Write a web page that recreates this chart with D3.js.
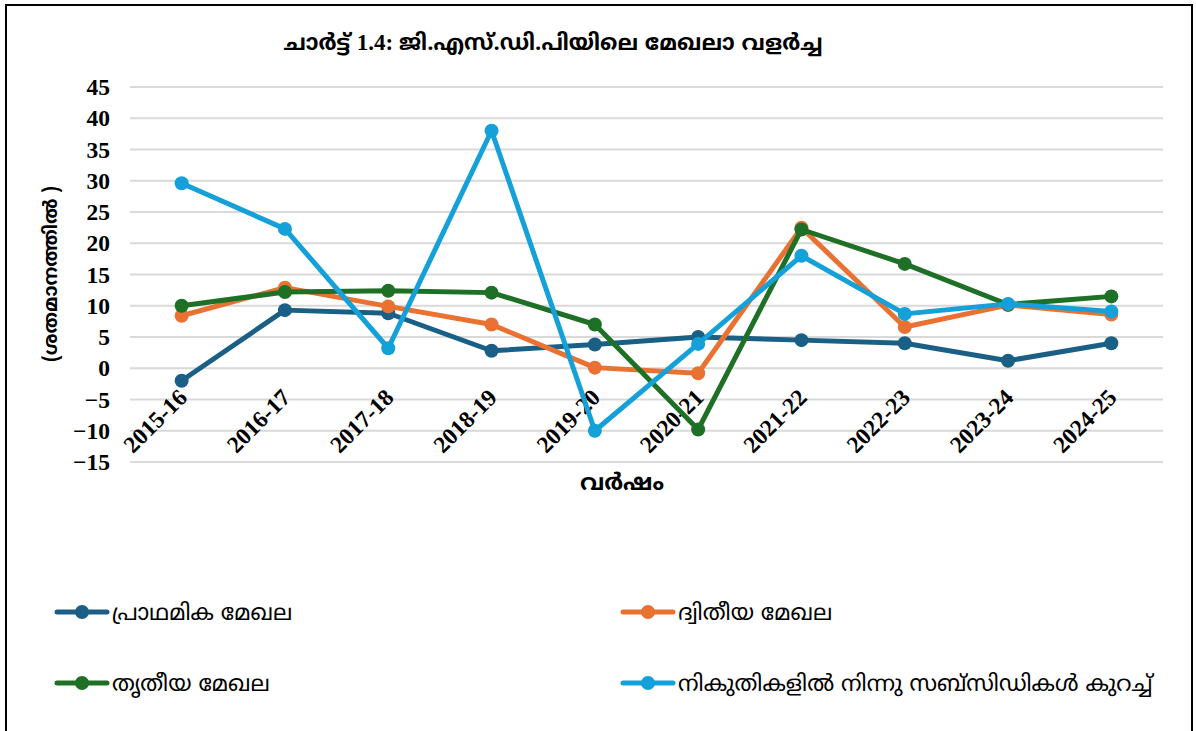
<!DOCTYPE html>
<html>
<head>
<meta charset="utf-8">
<script src="https://cdn.jsdelivr.net/npm/d3@7"></script>
<style>
  body { margin: 0; background: #fff; }
  .ml { font-family: "Noto Sans Malayalam", "Noto Sans", "DejaVu Sans", sans-serif; }
  .num { font-family: "Liberation Serif", "Times New Roman", serif; font-weight: bold; }
</style>
</head>
<body>
<div class="chart"></div>
<script>
const years = ['2015-16','2016-17','2017-18','2018-19','2019-20','2020-21','2021-22','2022-23','2023-24','2024-25'];
const yTicks = [-15,-10,-5,0,5,10,15,20,25,30,35,40,45];

const primary   = [-2.0, 9.3, 8.8, 2.8, 3.8, 5.0, 4.5, 4.0, 1.2, 4.0];
const secondary = [8.4, 12.9, 9.9, 7.0, 0.1, -0.8, 22.5, 6.6, 10.1, 8.6];
const tertiary  = [10.0, 12.2, 12.4, 12.1, 7.0, -9.8, 22.2, 16.7, 10.2, 11.5];
const taxes     = [29.6, 22.3, 3.2, 38.0, -10.0, 3.9, 18.0, 8.7, 10.3, 9.1];

const seriesNames = ['പ്രാഥമിക മേഖല', 'ദ്വിതീയ മേഖല', 'തൃതീയ മേഖല', 'നികുതികളിൽ നിന്നു സബ്സിഡികൾ കുറച്ച്'];
const colors = ['#1a5f85', '#e97132', '#1e7026', '#14a0d8'];

const W = 1196, H = 731;
const margin = {top:87, left:130, bottom:269, right:33};

let svg = d3.select('.chart').append('svg')
    .attr('width', W)
    .attr('height', H);

// outer frame
svg.append('rect')
    .attr('x', 6).attr('y', 5)
    .attr('width', 1186).attr('height', 760)
    .attr('fill', 'none')
    .attr('stroke', 'black')
    .attr('stroke-width', 2);

const x = d3.scaleBand()
    .domain(years)
    .range([margin.left, W - margin.right]);

const y = d3.scaleLinear()
    .domain([-15, 45])
    .range([H - margin.bottom, margin.top]);

// grid
svg.append('g')
    .selectAll('line')
    .data(yTicks)
    .enter()
    .append('line')
    .attr('x1', margin.left)
    .attr('x2', W - margin.right)
    .attr('y1', d => y(d))
    .attr('y2', d => y(d))
    .attr('stroke', '#d9d9d9')
    .attr('stroke-width', 2);

const yAxis = d3.axisLeft(y)
    .tickValues(yTicks)
    .tickSize(0)
    .tickPadding(20);

let Y = svg.append('g')
    .attr('transform', `translate(${margin.left}, 0)`)
    .call(yAxis);
Y.select('.domain').remove();
Y.selectAll('text')
    .attr('font-size', 23.5)
    .attr('font-family', '"Liberation Serif", serif')
    .attr('font-weight', 'bold')
    .attr('fill', '#000');

// x labels, rotated
svg.append('g')
    .selectAll('text')
    .data(years)
    .enter()
    .append('text')
    .attr('class', 'num')
    .attr('transform', d => `translate(${x(d) + x.bandwidth() / 2 + 1}, 393) rotate(-45)`)
    .attr('text-anchor', 'end')
    .attr('dy', '0.35em')
    .attr('font-size', 23.5)
    .text(d => d);

// titles
let title = svg.append('text')
    .attr('class', 'ml')
    .attr('x', 553).attr('y', 50)
    .attr('text-anchor', 'middle')
    .attr('font-size', 22)
    .attr('font-weight', 'bold');
title.append('tspan').text('ചാർട്ട് ');
title.append('tspan').attr('class', 'num').attr('font-size', 23).text('1.4: ');
title.append('tspan').text('ജി.എസ്.ഡി.പിയിലെ മേഖലാ വളർച്ച');

svg.append('text')
    .attr('class', 'ml')
    .attr('x', 622).attr('y', 490)
    .attr('text-anchor', 'middle')
    .attr('font-size', 23)
    .attr('font-weight', 'bold')
    .text('വർഷം');

svg.append('text')
    .attr('class', 'ml')
    .attr('transform', 'translate(57, 274) rotate(-90)')
    .attr('text-anchor', 'middle')
    .attr('font-size', 19)
    .attr('font-weight', 'bold')
    .text('(ശതമാനത്തിൽ )');

// series
const allSeries = [primary, secondary, tertiary, taxes];

const line = d3.line()
    .x((d, i) => x(years[i]) + x.bandwidth() / 2)
    .y(d => y(d));

allSeries.forEach((vals, k) => {
    svg.append('path')
        .datum(vals)
        .attr('d', line)
        .attr('fill', 'none')
        .attr('stroke', colors[k])
        .attr('stroke-width', 5)
        .attr('stroke-linejoin', 'round');

    svg.append('g')
        .selectAll('circle')
        .data(vals)
        .enter()
        .append('circle')
        .attr('cx', (d, i) => x(years[i]) + x.bandwidth() / 2)
        .attr('cy', d => y(d))
        .attr('r', 7)
        .attr('fill', colors[k]);
});

// legend
const legendPos = [[57, 612], [623, 612], [57, 683], [623, 683]];

let legend = svg.append('g')
    .selectAll('g')
    .data(seriesNames)
    .enter()
    .append('g')
    .attr('transform', (d, i) => `translate(${legendPos[i][0]}, ${legendPos[i][1]})`);

legend.append('line')
    .attr('x1', 0).attr('x2', 50)
    .attr('y1', 0).attr('y2', 0)
    .attr('stroke', (d, i) => colors[i])
    .attr('stroke-width', 5)
    .attr('stroke-linecap', 'round');

legend.append('circle')
    .attr('cx', 25).attr('cy', 0)
    .attr('r', 7)
    .attr('fill', (d, i) => colors[i]);

legend.append('text')
    .attr('class', 'ml')
    .attr('x', 55)
    .attr('dy', '0.35em')
    .attr('font-size', 22.5)
    .text(d => d);
</script>
</body>
</html>
